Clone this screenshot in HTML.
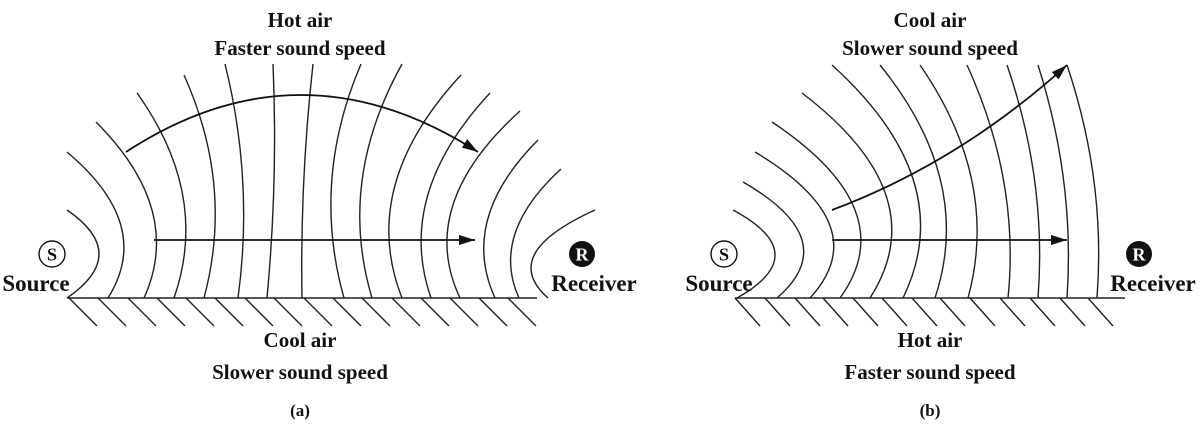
<!DOCTYPE html>
<html><head><meta charset="utf-8"><style>
html,body{margin:0;padding:0;background:#fff;}
svg{display:block;}
text{font-family:"Liberation Serif",serif;font-weight:bold;fill:#111;}
</style></head><body>
<svg width="1200" height="430" viewBox="0 0 1200 430" xmlns="http://www.w3.org/2000/svg">
<defs>
<marker id="ah2" viewBox="0 0 10 10" refX="10" refY="5" markerWidth="16" markerHeight="10" markerUnits="userSpaceOnUse" orient="auto" preserveAspectRatio="none">
<path d="M0,0 L10,5 L0,10 z" fill="#111"/></marker>
</defs>
<g fill="none" stroke="#222" stroke-width="1.4">
<path d="M67,210 Q131,254 67,298"/>
<path d="M67,152 Q154,225 108,298"/>
<path d="M96,122 Q184,210 144,298"/>
<path d="M137,93 Q210,195 174,298"/>
<path d="M184,75 Q234,186 204,298"/>
<path d="M225,64 Q254,181 238,298"/>
<path d="M273,64 Q278,181 267,298"/>
<path d="M313,64 Q300,181 302,298"/>
<path d="M361,64 Q311,181 344,298"/>
<path d="M402,64 Q337,181 372,298"/>
<path d="M461,75 Q358,186 402,298"/>
<path d="M490,93 Q395,195 431,298"/>
<path d="M520,111 Q416,205 460,298"/>
<path d="M538,140 Q459,219 495,298"/>
<path d="M561,169 Q490,234 519,298"/>
<path d="M595,210 Q498,254 548,298"/>
<line x1="67" y1="298" x2="537" y2="298"/>
<path d="M69,298 l28,28 M98,298 l28,28 M128,298 l28,28 M157,298 l28,28 M186,298 l28,28 M215,298 l28,28 M245,298 l28,28 M274,298 l28,28 M304,298 l28,28 M333,298 l28,28 M362,298 l28,28 M392,298 l28,28 M421,298 l28,28 M450,298 l28,28 M479,298 l28,28 M508,298 l28,28"/>
<path d="M733,210 Q815,254 737,298"/>
<path d="M743,182 Q844,240 777,298"/>
<path d="M755,152 Q877,225 810,298"/>
<path d="M772,122 Q904,210 840,298"/>
<path d="M802,93 Q936,195 870,298"/>
<path d="M832,65 Q960,181 903,298"/>
<path d="M880,65 Q974,181 935,298"/>
<path d="M920,65 Q1000,181 968,298"/>
<path d="M967,65 Q1020,181 1008,298"/>
<path d="M1007,65 Q1047,181 1038,298"/>
<path d="M1038,65 Q1075,181 1067,298"/>
<path d="M1067,65 Q1106,181 1097,298"/>
<line x1="735" y1="298" x2="1125" y2="298"/>
<path d="M735,298 l25,28 M765,298 l25,28 M795,298 l25,28 M823,298 l25,28 M853,298 l25,28 M882,298 l25,28 M912,298 l25,28 M940,298 l25,28 M970,298 l25,28 M1000,298 l25,28 M1030,298 l25,28 M1060,298 l25,28 M1088,298 l25,28"/>
</g>
<g fill="none" stroke="#111" stroke-width="1.8">
<path d="M126,152 Q300,38 478,152" marker-end="url(#ah2)"/>
<line x1="154" y1="240" x2="475" y2="240" marker-end="url(#ah2)"/>
<path d="M832,210 Q960,162 1067,65" marker-end="url(#ah2)"/>
<line x1="832" y1="240" x2="1067" y2="240" marker-end="url(#ah2)"/>
</g>
<circle cx="52" cy="254" r="13" fill="#fff" stroke="#111" stroke-width="1.4"/>
<text x="52" y="260.5" font-size="18" text-anchor="middle">S</text>
<circle cx="582" cy="254" r="13" fill="#111"/>
<text x="582" y="260.5" font-size="18" text-anchor="middle" style="fill:#fff">R</text>
<circle cx="724" cy="254" r="13" fill="#fff" stroke="#111" stroke-width="1.4"/>
<text x="724" y="260.5" font-size="18" text-anchor="middle">S</text>
<circle cx="1139" cy="254" r="13" fill="#111"/>
<text x="1139" y="260.5" font-size="18" text-anchor="middle" style="fill:#fff">R</text>
<g font-size="23">
<text x="36" y="291" text-anchor="middle">Source</text>
<text x="594" y="291" text-anchor="middle">Receiver</text>
<text x="719" y="291" text-anchor="middle">Source</text>
<text x="1153" y="291" text-anchor="middle">Receiver</text>
</g>
<g font-size="21" text-anchor="middle">
<text x="300" y="27">Hot air</text>
<text x="300" y="55">Faster sound speed</text>
<text x="300" y="347">Cool air</text>
<text x="300" y="379">Slower sound speed</text>
<text x="930" y="27">Cool air</text>
<text x="930" y="55">Slower sound speed</text>
<text x="930" y="347">Hot air</text>
<text x="930" y="379">Faster sound speed</text>
</g>
<g font-size="17" text-anchor="middle">
<text x="300" y="416">(a)</text>
<text x="930" y="416">(b)</text>
</g>
</svg>
</body></html>
